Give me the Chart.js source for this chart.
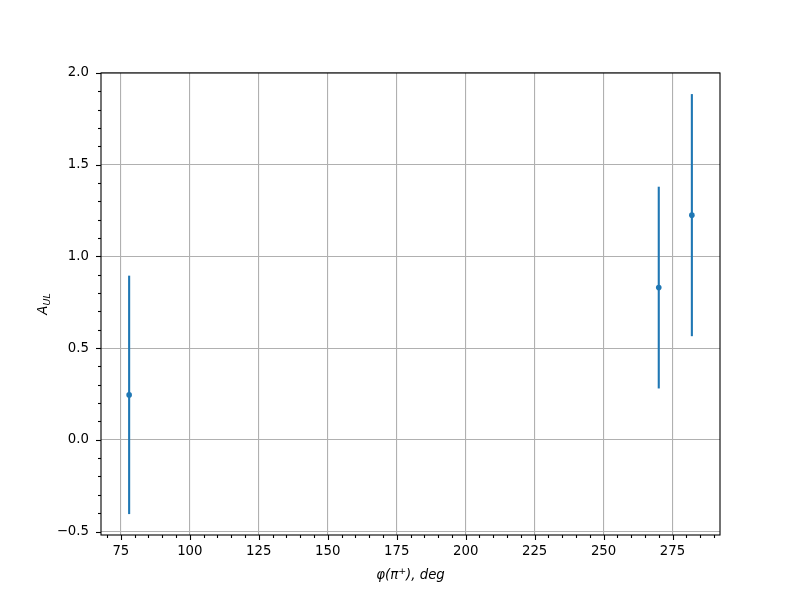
<!DOCTYPE html>
<html>
<head>
<meta charset="utf-8">
<script src="https://cdn.jsdelivr.net/npm/chart.js@4.4.0/dist/chart.umd.min.js"></script>
<style>
  html, body { margin: 0; padding: 0; background: #fff; }
  #wrap { width: 800px; height: 600px; }
</style>
</head>
<body>
<div id="wrap"><canvas id="aulChart" width="800" height="600"></canvas></div>
<script>
// data
const phi = [78, 270, 282];
const aul = [0.245, 0.83, 1.225];
const aulErr = [0.65, 0.55, 0.66];

const xMajor = [75, 100, 125, 150, 175, 200, 225, 250, 275];
const yMajor = [-0.5, 0.0, 0.5, 1.0, 1.5, 2.0];

const blue = "#1f77b4";

function isMajor(v, list) {
  return list.some((m) => Math.abs(m - v) < 1e-6);
}

// error bars, frame, tick marks and math-style axis titles
const errorBarPlugin = {
  id: "errorBars",
  beforeDatasetsDraw(chart) {
    const ctx = chart.ctx;
    const xs = chart.scales.x;
    const ys = chart.scales.y;
    ctx.save();
    ctx.strokeStyle = blue;
    ctx.lineWidth = 2.1;
    phi.forEach((p, i) => {
      const px = xs.getPixelForValue(p);
      ctx.beginPath();
      ctx.moveTo(px, ys.getPixelForValue(aul[i] - aulErr[i]));
      ctx.lineTo(px, ys.getPixelForValue(aul[i] + aulErr[i]));
      ctx.stroke();
    });
    ctx.restore();
  },
  afterDraw(chart) {
    const ctx = chart.ctx;
    const a = chart.chartArea;
    const xs = chart.scales.x;
    const ys = chart.scales.y;
    ctx.save();
    ctx.strokeStyle = "#000";
    ctx.lineWidth = 1.1;
    ctx.strokeRect(a.left, a.top, a.right - a.left, a.bottom - a.top);

    // ticks
    xs.ticks.forEach((t) => {
      const px = Math.round(xs.getPixelForValue(t.value)) + 0.5;
      const len = isMajor(t.value, xMajor) ? 5 : 3;
      ctx.beginPath();
      ctx.moveTo(px, a.bottom);
      ctx.lineTo(px, a.bottom + len);
      ctx.stroke();
    });
    ys.ticks.forEach((t) => {
      const py = Math.round(ys.getPixelForValue(t.value)) + 0.5;
      const len = isMajor(t.value, yMajor) ? 5 : 3;
      ctx.beginPath();
      ctx.moveTo(a.left, py);
      ctx.lineTo(a.left - len, py);
      ctx.stroke();
    });

    // x title: φ(π⁺), deg
    ctx.fillStyle = "#000";
    ctx.textBaseline = "alphabetic";
    const it = "italic 13.3px 'DejaVu Sans'";
    const sup = "italic 9.5px 'DejaVu Sans'";
    const parts = [
      { t: "φ(π", f: it, dy: 0 },
      { t: "+", f: sup, dy: -5 },
      { t: "), deg", f: it, dy: 0 },
    ];
    let w = 0;
    parts.forEach((p) => { ctx.font = p.f; w += ctx.measureText(p.t).width; });
    let x = (a.left + a.right) / 2 - w / 2;
    const by = 579;
    parts.forEach((p) => {
      ctx.font = p.f;
      ctx.fillText(p.t, x, by + p.dy);
      x += ctx.measureText(p.t).width;
    });

    // y title: A_UL
    ctx.translate(47, (a.top + a.bottom) / 2);
    ctx.rotate(-Math.PI / 2);
    ctx.font = it;
    const wA = ctx.measureText("A").width;
    ctx.font = sup;
    const wS = ctx.measureText("UL").width;
    const sx = -(wA + wS) / 2;
    ctx.font = it;
    ctx.fillText("A", sx, 0);
    ctx.font = sup;
    ctx.fillText("UL", sx + wA, 3);
    ctx.restore();
  },
};

const ctx = document.getElementById("aulChart").getContext("2d");

new Chart(ctx, {
  type: "scatter",
  data: {
    datasets: [
      {
        label: "A_UL",
        data: phi.map((p, i) => ({ x: p, y: aul[i] })),
        backgroundColor: blue,
        borderColor: blue,
        pointRadius: 2.8,
        pointBorderWidth: 0,
      },
    ],
  },
  options: {
    responsive: false,
    animation: false,
    layout: { padding: { top: 73, right: 80, bottom: 0, left: 0 } },
    plugins: {
      legend: { display: false },
      tooltip: { enabled: false },
    },
    scales: {
      x: {
        type: "linear",
        min: 67.8,
        max: 292.2,
        border: { display: false },
        grid: {
          drawTicks: false,
          lineWidth: 1.1,
          color: (c) => (c.tick && isMajor(c.tick.value, xMajor) ? "#b0b0b0" : "rgba(0,0,0,0)"),
        },
        ticks: {
          stepSize: 5,
          includeBounds: false,
          autoSkip: false,
          maxRotation: 0,
          padding: 9,
          color: "#000",
          font: { family: "DejaVu Sans", size: 13.3 },
          callback: (v) => (isMajor(v, xMajor) ? String(v) : ""),
        },
        afterFit: (s) => { s.height = 65; },
      },
      y: {
        type: "linear",
        min: -0.519,
        max: 2.0,
        border: { display: false },
        grid: {
          drawTicks: false,
          lineWidth: 1.1,
          color: (c) => (c.tick && isMajor(c.tick.value, yMajor) ? "#b0b0b0" : "rgba(0,0,0,0)"),
        },
        ticks: {
          stepSize: 0.1,
          includeBounds: false,
          autoSkip: false,
          padding: 12,
          color: "#000",
          font: { family: "DejaVu Sans", size: 13.3 },
          callback: (v) => (isMajor(v, yMajor) ? v.toFixed(1).replace("-", "\u2212") : ""),
        },
        afterFit: (s) => { s.width = 101; },
      },
    },
  },
  plugins: [errorBarPlugin],
});
</script>
</body>
</html>
